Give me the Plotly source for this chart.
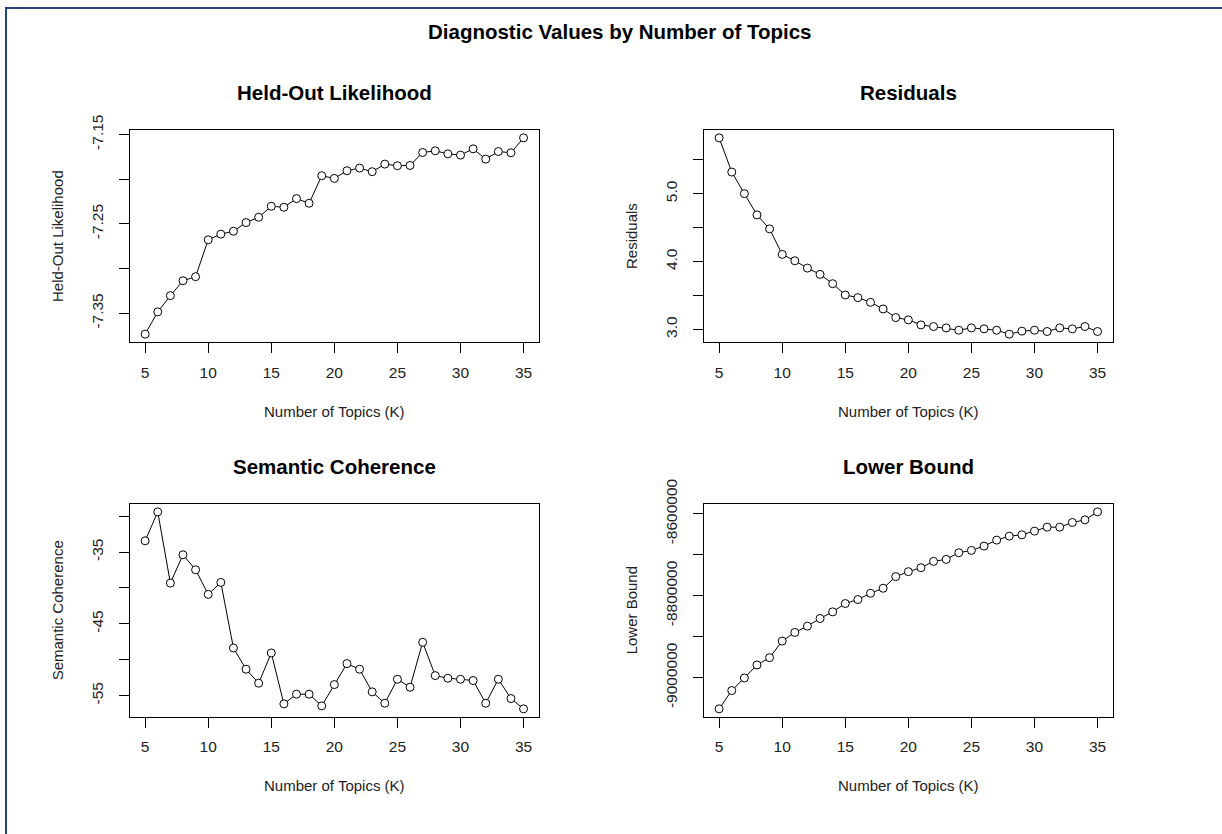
import plotly.graph_objects as go

# ---- data ----
topics_k = [5, 6, 7, 8, 9, 10, 11, 12, 13, 14, 15, 16, 17, 18, 19, 20,
            21, 22, 23, 24, 25, 26, 27, 28, 29, 30, 31, 32, 33, 34, 35]

heldout = [-7.3734, -7.3485, -7.3303, -7.3136, -7.3091, -7.2678, -7.2615, -7.2582,
           -7.2485, -7.2426, -7.2303, -7.2314, -7.2217, -7.2269, -7.1961, -7.1991,
           -7.1905, -7.1875, -7.1916, -7.1831, -7.1849, -7.1846, -7.1701, -7.1682,
           -7.1716, -7.1730, -7.1660, -7.1775, -7.1690, -7.1704, -7.1537]

residuals = [5.823, 5.319, 5.001, 4.688, 4.482, 4.106, 4.013, 3.905, 3.812, 3.675,
             3.509, 3.470, 3.401, 3.303, 3.176, 3.142, 3.068, 3.044, 3.024, 2.990,
             3.024, 3.010, 2.990, 2.932, 2.976, 2.990, 2.971, 3.024, 3.010, 3.044, 2.971]

semcoh = [-33.43, -29.40, -39.32, -35.38, -37.47, -40.90, -39.23, -48.37, -51.33,
          -53.28, -49.06, -56.16, -54.81, -54.81, -56.44, -53.47, -50.55, -51.33,
          -54.49, -56.07, -52.73, -53.84, -47.58, -52.22, -52.59, -52.73, -52.91,
          -56.07, -52.73, -55.42, -56.85]

lowerbound = [-9076290, -9031660, -9000830, -8969190, -8951330, -8910770, -8889670,
              -8874250, -8855590, -8839360, -8819080, -8809340, -8793920, -8781750,
              -8753350, -8741180, -8731450, -8716030, -8711160, -8694930, -8689250,
              -8678710, -8664100, -8654360, -8651120, -8642190, -8632460, -8632460,
              -8621100, -8614600, -8595130]

x_tickvals = [5, 10, 15, 20, 25, 30, 35]

heldout_tickvals = [-7.35, -7.30, -7.25, -7.20, -7.15]
heldout_ticktext = ["-7.35", "", "-7.25", "", "-7.15"]
resid_tickvals = [3.0, 3.5, 4.0, 4.5, 5.0, 5.5]
resid_ticktext = ["3.0", "", "4.0", "", "5.0", ""]
semcoh_tickvals = [-55, -50, -45, -40, -35, -30]
semcoh_ticktext = ["-55", "", "-45", "", "-35", ""]
lb_tickvals = [-9000000, -8900000, -8800000, -8700000, -8600000]
lb_ticktext = ["-9000000", "", "-8800000", "", "-8600000"]

main_title = "Diagnostic Values by Number of Topics"
panel_titles = ["Held-Out Likelihood", "Residuals", "Semantic Coherence", "Lower Bound"]
y_titles = ["Held-Out Likelihood", "Residuals", "Semantic Coherence", "Lower Bound"]
x_title = "Number of Topics (K)"

# ---- layout geometry (pixels) ----
W, H = 1222, 834
FONT = "Liberation Sans, Arial, sans-serif"
boxes = [  # left, right, top, bottom
    (130, 538.7, 130, 342),
    (704, 1112.7, 130, 342),
    (130, 538.7, 504, 716.7),
    (704, 1112.7, 504, 716.7),
]

def px(x):
    return x / W

def py(y):
    return 1 - y / H

def rrange(vals):
    lo, hi = min(vals), max(vals)
    d = (hi - lo) * 0.04
    return [lo - d, hi + d]

series = [heldout, residuals, semcoh, lowerbound]
ytv = [heldout_tickvals, resid_tickvals, semcoh_tickvals, lb_tickvals]
ytt = [heldout_ticktext, resid_ticktext, semcoh_ticktext, lb_ticktext]

fig = go.Figure()
layout = dict(
    width=W, height=H,
    margin=dict(l=0, r=0, t=0, b=0, autoexpand=False),
    paper_bgcolor="white", plot_bgcolor="white",
    showlegend=False,
    font=dict(family=FONT, color="black", size=15),
)
annotations = []

for i, (vals, (l, r, t, b)) in enumerate(zip(series, boxes)):
    n = "" if i == 0 else str(i + 1)
    fig.add_trace(go.Scatter(
        x=topics_k, y=vals, mode="lines+markers",
        line=dict(color="black", width=1),
        marker=dict(symbol="circle", size=8, color="white",
                    line=dict(color="black", width=1)),
        xaxis="x" + n, yaxis="y" + n, hoverinfo="x+y",
    ))
    axcommon = dict(
        showline=True, linecolor="black", linewidth=1, mirror=True,
        showgrid=False, zeroline=False, ticks="outside", ticklen=10,
        tickcolor="black", tickwidth=1,
        tickfont=dict(family=FONT, size=15.5, color="#222"),
    )
    layout["xaxis" + n] = dict(
        domain=[px(l), px(r)], anchor="y" + n,
        range=[3.8, 36.2], tickvals=x_tickvals,
        ticklabelstandoff=6, **axcommon,
    )
    layout["yaxis" + n] = dict(
        domain=[py(b), py(t)], anchor="x" + n,
        range=rrange(vals), tickvals=ytv[i], ticktext=ytt[i],
        tickangle=-90, ticklabelstandoff=10, **axcommon,
    )
    cx = (l + r) / 2
    cy = (t + b) / 2
    # panel title
    annotations.append(dict(
        text="<b>" + panel_titles[i] + "</b>", x=px(cx), y=py(t - 37),
        xref="paper", yref="paper", showarrow=False,
        xanchor="center", yanchor="middle",
        font=dict(family=FONT, size=20.5, color="black"),
    ))
    # x axis title
    annotations.append(dict(
        text=x_title, x=px(cx), y=py(b + 69),
        xref="paper", yref="paper", showarrow=False,
        xanchor="center", yanchor="middle",
        font=dict(family=FONT, size=15, color="#222"),
    ))
    # y axis title
    annotations.append(dict(
        text=y_titles[i], x=px(l - 73), y=py(cy),
        xref="paper", yref="paper", showarrow=False, textangle=-90,
        xanchor="center", yanchor="middle",
        font=dict(family=FONT, size=15, color="#222"),
    ))

annotations.append(dict(
    text="<b>" + main_title + "</b>", x=px(620), y=py(32),
    xref="paper", yref="paper", showarrow=False,
    xanchor="center", yanchor="middle",
    font=dict(family=FONT, size=20.5, color="black"),
))
layout["annotations"] = annotations
layout["shapes"] = [dict(
    type="rect", xref="paper", yref="paper",
    x0=px(6), y0=py(8), x1=px(W + 20), y1=py(H + 20),
    line=dict(color="#24457f", width=2), fillcolor="rgba(0,0,0,0)",
)]
fig.update_layout(**layout)
fig.write_html("out.html",
               config={"displayModeBar": False},
               post_script="document.body.style.margin='0px';"
                           "document.body.style.overflow='hidden';")
